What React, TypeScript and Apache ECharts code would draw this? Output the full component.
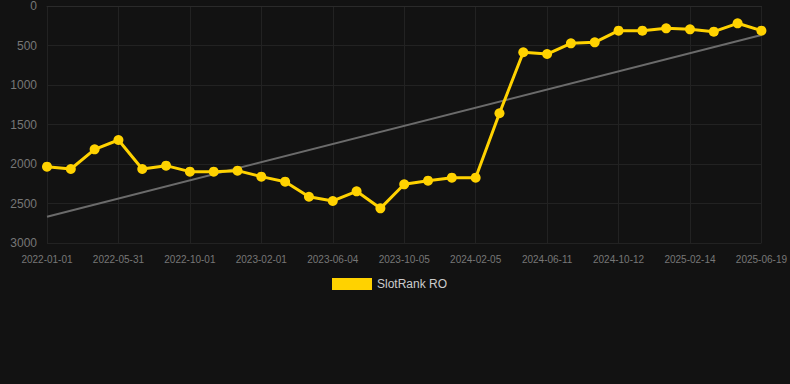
import React, { useEffect, useRef } from "react";
import * as echarts from "echarts";

const categories = [
  "2022-01-01", "2022-02-20", "2022-04-11", "2022-05-31", "2022-07-12", "2022-08-21",
  "2022-10-01", "2022-11-10", "2022-12-22", "2023-02-01", "2023-03-15", "2023-04-24",
  "2023-06-04", "2023-07-15", "2023-08-25", "2023-10-05", "2023-11-15", "2023-12-26",
  "2024-02-05", "2024-03-20", "2024-04-28", "2024-06-11", "2024-07-22", "2024-09-01",
  "2024-10-12", "2024-11-22", "2025-01-03", "2025-02-14", "2025-03-28", "2025-05-08",
  "2025-06-19",
];

const rankValues = [
  2034, 2063, 1814, 1696, 2063, 2021, 2097, 2097, 2084, 2160, 2224, 2414,
  2468, 2346, 2561, 2257, 2211, 2173, 2173, 1358, 586, 608, 473, 460,
  312, 312, 283, 295, 325, 219, 312,
];

const trendEnds = [2667, 367];

const yTicks = { min: 0, max: 3000, interval: 500 };

export default function App() {
  const ref = useRef<HTMLDivElement>(null);
  useEffect(() => {
    if (!ref.current) return;
    const chart = echarts.init(ref.current, null, { renderer: "svg" });
    const trendData = categories.map((_, i) =>
      i === 0 ? trendEnds[0] : i === categories.length - 1 ? trendEnds[1] : null
    );
    chart.setOption({
      animation: false,
      backgroundColor: "#121212",
      grid: { left: 47, right: 28, top: 6, bottom: 141 },
      legend: {
        top: 273,
        left: 327,
        itemWidth: 40,
        itemHeight: 12,
        itemGap: 10,
        icon: "rect",
        textStyle: { color: "#cccccc", fontSize: 12, fontFamily: "Arial, Liberation Sans, sans-serif" },
        data: ["SlotRank RO"],
      },
      xAxis: {
        type: "category",
        data: categories,
        boundaryGap: false,
        axisLine: { show: true, lineStyle: { color: "#2a2a2a" } },
        axisTick: { show: false },
        axisLabel: {
          interval: 2,
          color: "#777777",
          fontSize: 10,
          margin: 11,
          fontFamily: "Arial, Liberation Sans, sans-serif",
        },
        splitLine: { show: true, interval: 2, lineStyle: { color: "#222222" } },
      },
      yAxis: {
        type: "value",
        inverse: true,
        min: yTicks.min,
        max: yTicks.max,
        interval: yTicks.interval,
        axisLine: { show: false },
        axisTick: { show: false },
        axisLabel: {
          color: "#777777",
          fontSize: 12,
          margin: 10,
          formatter: (v: number) => String(v),
          fontFamily: "Arial, Liberation Sans, sans-serif",
        },
        splitLine: { show: true, lineStyle: { color: "#222222" } },
      },
      series: [
        {
          name: "Trend",
          type: "line",
          data: trendData,
          connectNulls: true,
          symbol: "none",
          lineStyle: { color: "#6b6b6b", width: 2 },
          z: 1,
        },
        {
          name: "SlotRank RO",
          type: "line",
          data: rankValues,
          symbol: "circle",
          symbolSize: 10,
          itemStyle: { color: "#ffd200" },
          lineStyle: { color: "#ffd200", width: 3 },
          z: 2,
        },
      ],
    });
    return () => chart.dispose();
  }, []);
  return <div ref={ref} style={{ width: 790, height: 384, position: "absolute", left: 0, top: 0 }} />;
}
